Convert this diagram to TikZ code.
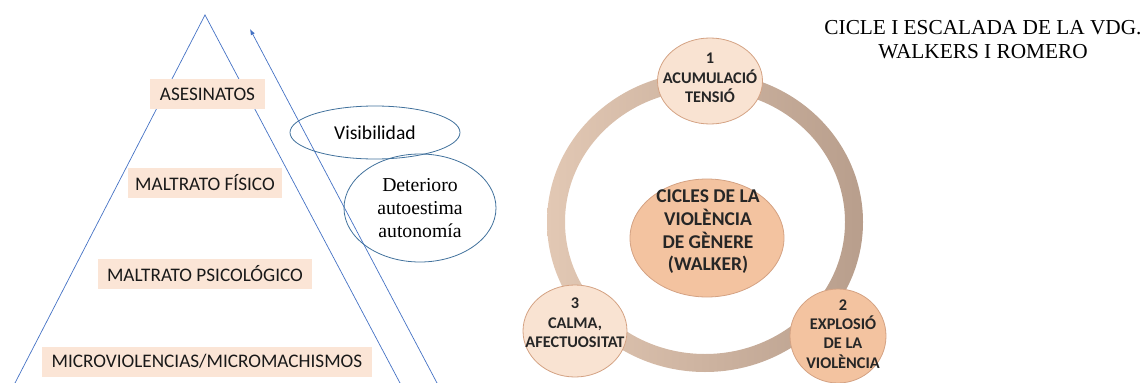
\documentclass[tikz,border=0pt]{standalone}
\usepackage{fontspec}
\setmainfont{Liberation Serif}
\newfontfamily\carlito{Carlito}
\usetikzlibrary{shapes.geometric,arrows.meta}
\definecolor{boxfill}{HTML}{FBE5D6}
\definecolor{pyrline}{HTML}{4472C4}
\definecolor{ellline}{HTML}{41719C}
\definecolor{ringL}{HTML}{E2C8B4}
\definecolor{ringR}{HTML}{B89E8C}
\definecolor{nlight}{HTML}{F9E3D2}
\definecolor{ndark}{HTML}{F3C3A0}
\definecolor{nedge}{HTML}{D4A283}
\definecolor{ntext}{HTML}{262626}
\begin{document}
\begin{tikzpicture}[x=1pt,y=-1pt,
  lvl/.style={fill=boxfill, inner sep=0pt, minimum height=30pt,
    font=\fontsize{19.2}{22}\selectfont\carlito, text=black!90},
  oval/.style={draw=ellline, line width=0.8pt, ellipse, inner sep=0pt, align=center},
  cyc/.style={ellipse, draw=nedge, line width=0.8pt, inner sep=0pt},
  cyctext/.style={align=center, inner sep=0pt, text=ntext,
    font=\fontsize{16.3}{19.3}\selectfont\carlito\bfseries},
  pline/.style={draw=pyrline, line width=0.7pt}]
\useasboundingbox (0,0) rectangle (1144,383);
% pyramid
\coordinate (apex) at (205,15);
\coordinate (pbl) at (15,383);
\coordinate (pbr) at (400,383);
\draw[pline] (pbl) -- (apex) -- (pbr);
% arrow
\coordinate (abot) at (437,383);
\coordinate (atop) at (250,29);
\draw[pline, -{Latex[length=6pt,width=4.5pt]}] (abot) -- (atop);
% level boxes
\node[lvl, minimum width=115pt] (b1) at (207.5,94) {ASESINATOS};
\node[lvl, minimum width=154pt] (b2) at (205,183) {MALTRATO FÍSICO};
\node[lvl, minimum width=214pt] (b3) at (205,274) {MALTRATO PSICOLÓGICO};
\node[lvl, minimum width=330pt] (b4) at (207,361.5) {MICROVIOLENCIAS/MICROMACHISMOS};
% side ellipses
\node[oval, minimum width=170pt, minimum height=53pt,
  font=\fontsize{19.6}{22}\selectfont\carlito] (vis) at (375,132.5) {Visibilidad};
\node[oval, minimum width=152pt, minimum height=108pt,
  font=\fontsize{19.7}{23}\selectfont] (det) at (420,208) {Deterioro\\autoestima\\autonomía};
% title
\node[align=center, font=\fontsize{21.3}{24}\selectfont] (title) at (983,40)
  {CICLE I ESCALADA DE LA VDG.\\WALKERS I ROMERO};
% ring
\path[even odd rule, left color=ringL, right color=ringR]
  (705,222) ellipse [x radius=158pt, y radius=150pt]
  (705,222) ellipse [x radius=140pt, y radius=132pt];
% cycle nodes
\node[cyc, fill=ndark, minimum width=154pt, minimum height=118pt] (core) at (707,238) {};
\node[cyctext, font=\fontsize{19.5}{22.7}\selectfont\carlito\bfseries] (coret) at (708,232)
  {CICLES DE LA\\VIOLÈNCIA\\DE GÈNERE\\(WALKER)};
\node[cyc, fill=nlight, minimum width=105pt, minimum height=86pt] (n1) at (710,81) {};
\node[cyctext] (n1t) at (710,78) {1\\ACUMULACIÓ\\TENSIÓ};
\node[cyc, fill=ndark, minimum width=96pt, minimum height=94pt] (n2) at (838,336) {};
\node[cyctext] (n2t) at (843,334) {2\\EXPLOSIÓ\\DE LA\\VIOLÈNCIA};
\node[cyc, fill=nlight, minimum width=104pt, minimum height=92pt] (n3) at (575,331) {};
\node[cyctext] (n3t) at (575,323) {3\\CALMA,\\AFECTUOSITAT};
\end{tikzpicture}
\end{document}
